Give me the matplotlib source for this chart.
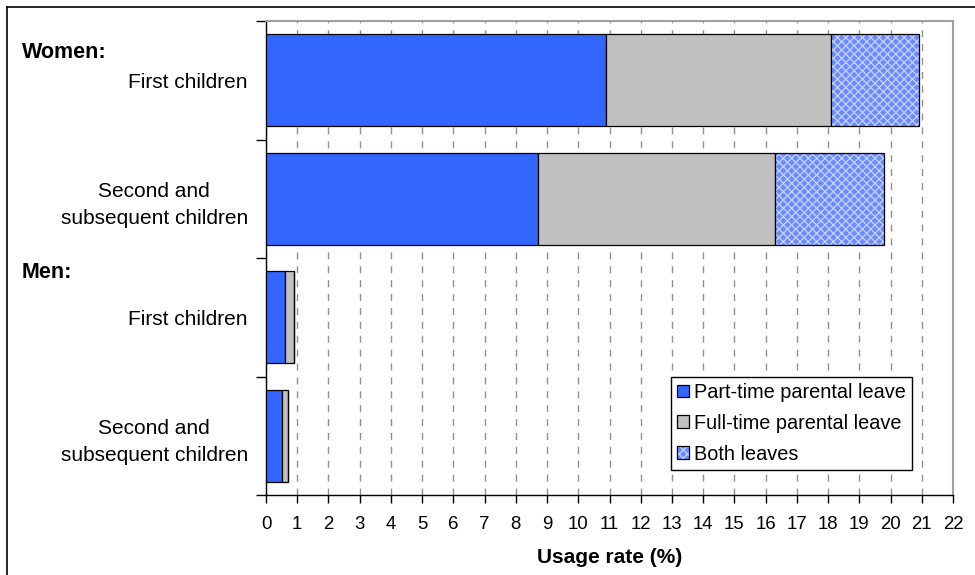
import matplotlib
matplotlib.use("Agg")
import matplotlib.pyplot as plt
from matplotlib.lines import Line2D
from matplotlib.patches import Patch
from matplotlib.legend_handler import HandlerTuple
import numpy as np

plt.rcParams['font.family'] = ['Liberation Sans', 'DejaVu Sans']
plt.rcParams['hatch.linewidth'] = 0.9

# Data
group_labels = ["Women:", "Men:"]
categories = ["First children", "Second and\nsubsequent children",
              "First children", "Second and\nsubsequent children"]
part_time = [10.9, 8.7, 0.6, 0.5]
full_time = [7.2, 7.6, 0.3, 0.2]
both_leaves = [2.8, 3.5, 0.0, 0.0]
series_names = ["Part-time parental leave", "Full-time parental leave", "Both leaves"]
x_ticks = list(range(0, 23))

c_part = "#3366FF"
c_full = "#C0C0C0"
c_both = "#6A8CFF"
c_both_hatch = "#C6D2FF"

fig = plt.figure(figsize=(9.75, 5.75), dpi=100)
ax = fig.add_axes([266/975, 1-495/575, (953-266)/975, (495-21)/575])

y = np.arange(len(categories))
h = 0.78
part = np.array(part_time)
full = np.array(full_time)
both = np.array(both_leaves)

ax.set_axisbelow(True)
ax.barh(y, part, height=h, color=c_part, edgecolor="black", linewidth=0.9, zorder=3)
ax.barh(y, full, left=part, height=h, color=c_full, edgecolor="black", linewidth=0.9, zorder=3)
ax.barh(y, both, left=part + full, height=h, color=c_both, edgecolor=c_both_hatch,
        hatch="xxxx", linewidth=0, zorder=3)
ax.barh(y, both, left=part + full, height=h, fill=False, edgecolor="black",
        linewidth=0.9, zorder=4)

ax.set_xlim(0, 22)
ax.set_ylim(len(categories) - 0.5, -0.5)
ax.set_xticks(x_ticks)
ax.set_xticklabels([str(t) for t in x_ticks], fontsize=13.4)
ax.tick_params(axis="x", direction="out", length=6, width=1, pad=9, color="black")

# category boundaries as major ticks, labels at band centres
ax.set_yticks(np.arange(-0.5, len(categories), 1.0))
ax.set_yticklabels([])
ax.tick_params(axis="y", which="major", direction="out", length=7, width=1, color="black")
ax.set_yticks(y, minor=True)
ax.set_yticklabels(categories, minor=True, fontsize=15, multialignment="center",
                   linespacing=1.52)
ax.tick_params(axis="y", which="minor", length=0, pad=13)

ax.xaxis.grid(True, linestyle=(0, (5, 5)), color="#909090", linewidth=1.0, zorder=0)
ax.yaxis.grid(False)

for s in ["top", "right"]:
    ax.spines[s].set_color("#A0A0A0")
    ax.spines[s].set_linewidth(1.5)
for s in ["left", "bottom"]:
    ax.spines[s].set_color("black")
    ax.spines[s].set_linewidth(1.0)

ax.set_xlabel("Usage rate (%)", fontsize=15, fontweight="bold", labelpad=11)

# group headers
fig.text(22/975, 1-53/575, group_labels[0], fontsize=15.5, fontweight="bold", va="center", ha="left")
fig.text(22/975, 1-272/575, group_labels[1], fontsize=15.5, fontweight="bold", va="center", ha="left")

# legend
h1 = Patch(facecolor=c_part, edgecolor="black", linewidth=0.9)
h2 = Patch(facecolor=c_full, edgecolor="black", linewidth=0.9)
h3a = Patch(facecolor=c_both, edgecolor=c_both_hatch, hatch="xxxx", linewidth=0)
h3b = Patch(fill=False, edgecolor="black", linewidth=0.9)
leg = ax.legend([h1, h2, (h3a, h3b)], series_names,
                handler_map={tuple: HandlerTuple(ndivide=1)},
                loc="upper right", bbox_to_anchor=((912-266)/687, (495-377)/474),
                borderaxespad=0, fontsize=14.3, fancybox=False, framealpha=1,
                edgecolor="black", handlelength=0.62, handleheight=0.62,
                handletextpad=0.25, labelspacing=0.6, borderpad=0.3)
leg.get_frame().set_linewidth(1.0)
leg.set_zorder(10)

# outer frame of the chart area
fig.add_artist(Line2D([7/975, 1], [1-7/575, 1-7/575], color="black", linewidth=1.2,
                      transform=fig.transFigure))
fig.add_artist(Line2D([7/975, 7/975], [0, 1-7/575], color="black", linewidth=1.2,
                      transform=fig.transFigure))

fig.savefig("out.png", dpi=100)
